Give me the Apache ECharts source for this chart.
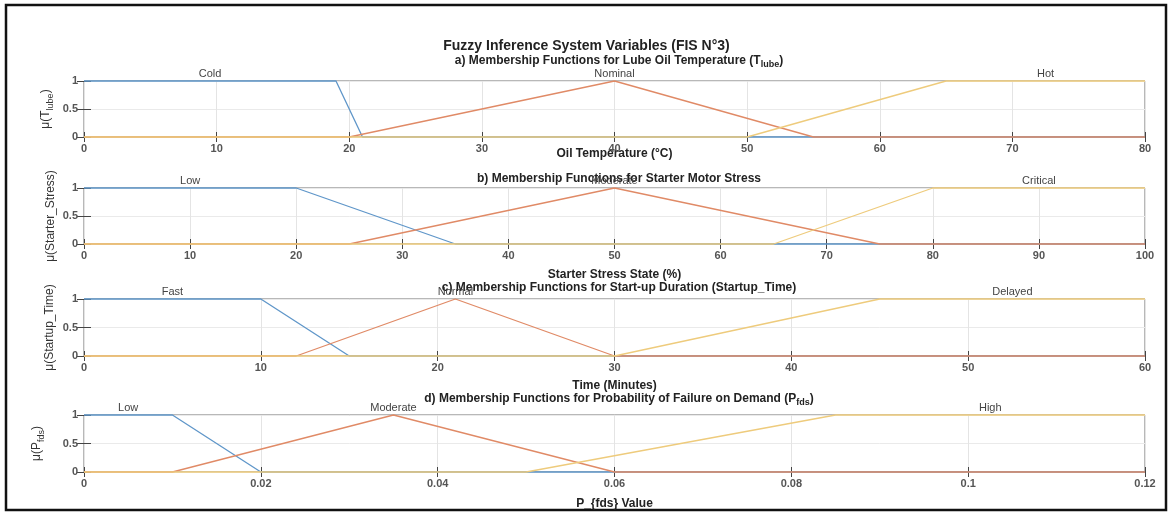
<!DOCTYPE html>
<html><head><meta charset="utf-8">
<script src="https://cdn.jsdelivr.net/npm/echarts@6/dist/echarts.min.js"></script>
<style>html,body{margin:0;padding:0;background:#fff}#c{width:1173px;height:513px}</style>
</head><body><div id="c"></div>
<script>
// ---------- data ----------
const mainTitle = 'Fuzzy Inference System Variables (FIS N°3)';

const tempTitle = 'a) Membership Functions for Lube Oil Temperature (T{s|lube})';
const tempXName = 'Oil Temperature (°C)';
const tempYName = '{n|μ(T}{s|lube}{n|)}';
const tempAxis = [0, 80, 10];
const tempNames = ['Cold', 'Nominal', 'Hot'];
const tempParams = [[0, 0, 19, 21], [20, 40, 40, 55], [50, 65, 80, 80]];

const stressTitle = 'b) Membership Functions for Starter Motor Stress';
const stressXName = 'Starter Stress State (%)';
const stressYName = '{n|μ(Starter_Stress)}';
const stressAxis = [0, 100, 10];
const stressNames = ['Low', 'Moderate', 'Critical'];
const stressParams = [[0, 0, 20, 35], [25, 50, 50, 75], [65, 80, 100, 100]];

const timeTitle = 'c) Membership Functions for Start-up Duration (Startup_Time)';
const timeXName = 'Time (Minutes)';
const timeYName = '{n|μ(Startup_Time)}';
const timeAxis = [0, 60, 10];
const timeNames = ['Fast', 'Normal', 'Delayed'];
const timeParams = [[0, 0, 10, 15], [12, 21, 21, 30], [30, 45, 60, 60]];

const pfdsTitle = 'd) Membership Functions for Probability of Failure on Demand (P{s|fds})';
const pfdsXName = 'P_{fds} Value';
const pfdsYName = '{n|μ(P}{s|fds}{n|)}';
const pfdsAxis = [0, 0.12, 0.02];
const pfdsNames = ['Low', 'Moderate', 'High'];
const pfdsParams = [[0, 0, 0.01, 0.02], [0.01, 0.035, 0.035, 0.06], [0.05, 0.085, 0.12, 0.12]];

const yTicks = [0, 0.5, 1];

// ---------- layout / style ----------
const FONT = '"Liberation Sans", Arial, sans-serif';
const colors = ['#5f96c9', '#e08a66', '#eecb7c'];
const gridTops = [81, 188, 299, 415];
const gridHeights = [56, 56, 57, 57];
const titleTops = [48, 166, 275, 386];
const xNameGaps = [11, 25, 24, 26];
const yNameGaps = [29, 24, 25, 38];

const panels = [
  [tempTitle, tempXName, tempYName, tempAxis, tempNames, tempParams],
  [stressTitle, stressXName, stressYName, stressAxis, stressNames, stressParams],
  [timeTitle, timeXName, timeYName, timeAxis, timeNames, timeParams],
  [pfdsTitle, pfdsXName, pfdsYName, pfdsAxis, pfdsNames, pfdsParams]
];

function verts(p, lo, hi) {
  const [a, b, c, d] = p;
  const pts = [];
  if (a > lo) pts.push([lo, 0]);
  pts.push([a, a === b ? 1 : 0]);
  if (b !== a) pts.push([b, 1]);
  if (c !== b) pts.push([c, 1]);
  if (d !== c) pts.push([d, 0]);
  if (d < hi) pts.push([hi, 0]);
  return pts;
}

const titleRich = { s: { fontSize: 9, fontWeight: 'bold', fontFamily: FONT, color: '#222', lineHeight: 10, verticalAlign: 'bottom' } };
const nameRich = {
  n: { fontSize: 12, fontFamily: FONT, color: '#333', lineHeight: 18, verticalAlign: 'middle' },
  s: { fontSize: 9, fontFamily: FONT, color: '#333', lineHeight: 10, verticalAlign: 'bottom' }
};

const option = {
  animation: false,
  backgroundColor: '#fff',
  title: [], grid: [], xAxis: [], yAxis: [], series: [],
  graphic: [{
    type: 'rect', shape: { x: 6, y: 5, width: 1160, height: 505 },
    style: { fill: 'none', stroke: '#111', lineWidth: 2.5 }, silent: true
  }]
};

option.title.push({
  text: mainTitle, left: 'center', top: 34,
  textStyle: { fontSize: 14, fontWeight: 'bold', fontFamily: FONT, color: '#222' }
});

panels.forEach((pn, i) => {
  const [ttl, xName, yName, ax, names, params] = pn;
  option.title.push({
    text: ttl, left: 614, textAlign: 'center', top: titleTops[i],
    textStyle: { fontSize: 12, fontWeight: 'bold', fontFamily: FONT, color: '#222', lineHeight: 16, rich: titleRich }
  });
  option.grid.push({
    left: 84, right: 28, top: gridTops[i], height: gridHeights[i],
    show: true, borderColor: '#707070', borderWidth: 1, backgroundColor: 'transparent'
  });
  const common = { min: ax[0], max: ax[1], interval: ax[2], gridIndex: i };
  option.xAxis.push(Object.assign({}, common, {
    type: 'value', position: 'bottom',
    name: xName, nameLocation: 'middle', nameGap: xNameGaps[i], nameMoveOverlap: false,
    nameTextStyle: { fontSize: 12, fontWeight: 'bold', fontFamily: FONT, color: '#222' },
    axisLine: { show: false },
    axisTick: { show: true, inside: true, length: 5, lineStyle: { color: '#444' } },
    axisLabel: { show: true, margin: 6, fontSize: 11, fontWeight: 'bold', fontFamily: FONT, color: '#555' },
    splitLine: { show: true, lineStyle: { color: '#e4e4e4', width: 1 } }
  }));
  option.xAxis.push(Object.assign({}, common, {
    type: 'value', position: 'top',
    axisLine: { show: false },
    axisTick: { show: true, inside: true, length: 5, lineStyle: { color: '#444' } },
    axisLabel: { show: false }, splitLine: { show: false }
  }));
  option.yAxis.push({
    type: 'value', gridIndex: i, min: 0, max: 1, interval: 0.5, position: 'left',
    name: yName, nameLocation: 'middle', nameGap: yNameGaps[i], nameRotate: 90, nameMoveOverlap: false,
    nameTextStyle: { rich: nameRich },
    axisLine: { show: false },
    axisTick: { show: true, inside: true, length: 7, lineStyle: { color: '#444' } },
    axisLabel: { show: true, margin: 6, fontSize: 11, fontWeight: 'bold', fontFamily: FONT, color: '#555',
      formatter: v => String(yTicks.find(t => Math.abs(t - v) < 1e-9) ?? v) },
    splitLine: { show: true, lineStyle: { color: '#eaeaea', width: 1 } }
  });
  option.yAxis.push({
    type: 'value', gridIndex: i, min: 0, max: 1, interval: 0.5, position: 'right',
    axisLine: { show: false },
    axisTick: { show: true, inside: true, length: 7, lineStyle: { color: '#444' } },
    axisLabel: { show: false }, splitLine: { show: false }
  });
  params.forEach((p, k) => {
    option.series.push({
      type: 'line', xAxisIndex: 2 * i, yAxisIndex: 2 * i,
      data: verts(p, ax[0], ax[1]), showSymbol: false, symbol: 'none', clip: false,
      lineStyle: { color: colors[k], width: 1.3 }, silent: true, z: 3 + k
    });
  });
  option.series.push({
    type: 'scatter', xAxisIndex: 2 * i, yAxisIndex: 2 * i, silent: true,
    data: params.map((p, k) => [(p[1] + p[2]) / 2, 1, names[k]]),
    symbolSize: 2, itemStyle: { color: 'rgba(0,0,0,0)' }, z: 10,
    label: { show: true, position: 'top', distance: 1, formatter: d => d.value[2],
      fontSize: 11, fontFamily: FONT, color: '#444', opacity: 1 }
  });
});

const chart = echarts.init(document.getElementById('c'), null, { renderer: 'canvas' });
chart.setOption(option);
</script></body></html>
